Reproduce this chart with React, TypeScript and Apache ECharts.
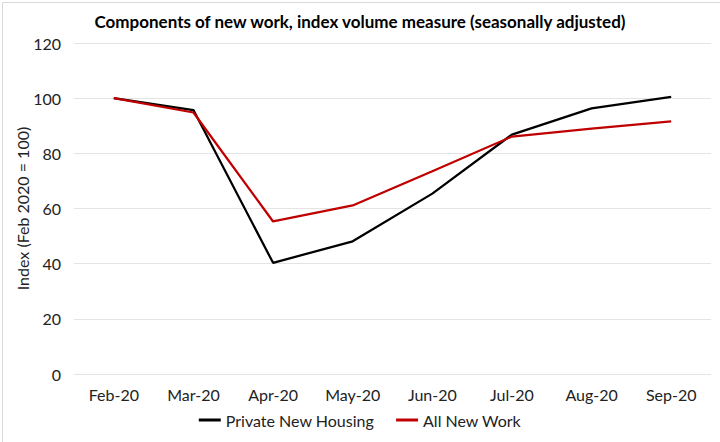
import React, { useEffect, useRef } from "react";
import * as echarts from "echarts";

const categories = ["Feb-20", "Mar-20", "Apr-20", "May-20", "Jun-20", "Jul-20", "Aug-20", "Sep-20"];
const privateNewHousing = [100, 95.7, 40.3, 48.1, 65.4, 86.8, 96.3, 100.5];
const allNewWork = [100, 94.8, 55.3, 61.1, 73.5, 86.1, 89.0, 91.6];
const titleText = "Components of new work, index volume measure (seasonally adjusted)";
const yAxisName = "Index (Feb 2020 = 100)";

const FONT = "Lato, 'Open Sans', sans-serif";

export default function App() {
  const ref = useRef<HTMLDivElement>(null);
  useEffect(() => {
    if (!ref.current) return;
    const chart = echarts.init(ref.current, null, { renderer: "svg" });
    chart.setOption({
      animation: false,
      backgroundColor: "#ffffff",
      title: {
        text: titleText,
        left: "center",
        top: 8,
        textStyle: { fontFamily: FONT, fontSize: 17, fontWeight: "bold", color: "#000" },
      },
      grid: { left: 74, right: 9, top: 43, bottom: 68, containLabel: false },
      legend: {
        bottom: 9,
        left: "center",
        itemWidth: 22,
        itemHeight: 3,
        itemGap: 22,
        icon: "rect",
        textStyle: { fontFamily: FONT, fontSize: 16, color: "#222" },
        data: ["Private New Housing", "All New Work"],
      },
      xAxis: {
        type: "category",
        data: categories,
        boundaryGap: true,
        axisLine: { show: false },
        axisTick: { show: false },
        axisLabel: { fontFamily: FONT, fontSize: 16, color: "#222", margin: 12 },
      },
      yAxis: {
        type: "value",
        min: 0,
        max: 120,
        interval: 20,
        name: yAxisName,
        nameLocation: "middle",
        nameGap: 44,
        nameMoveOverlap: false,
        nameTextStyle: { fontFamily: FONT, fontSize: 16, color: "#222" },
        axisLine: { show: false },
        axisTick: { show: false },
        axisLabel: { fontFamily: FONT, fontSize: 16, color: "#222", margin: 13 },
        splitLine: { lineStyle: { color: "#e4e4e4", width: 1 } },
      },
      series: [
        {
          name: "Private New Housing",
          type: "line",
          data: privateNewHousing,
          symbol: "none",
          color: "#000000",
          lineStyle: { color: "#000000", width: 2.25 },
        },
        {
          name: "All New Work",
          type: "line",
          data: allNewWork,
          symbol: "none",
          color: "#c00000",
          lineStyle: { color: "#c00000", width: 2.25 },
        },
      ],
      graphic: [
        {
          type: "rect",
          left: 0,
          top: 0,
          shape: { x: 0.5, y: 0.5, width: 719, height: 441 },
          style: { fill: "none", stroke: "#d9d9d9", lineWidth: 1 },
          silent: true,
        },
      ],
    });
    return () => chart.dispose();
  }, []);
  return (
    <div
      ref={ref}
      style={{ position: "fixed", left: 0, top: 0, width: 720, height: 442 }}
    />
  );
}
